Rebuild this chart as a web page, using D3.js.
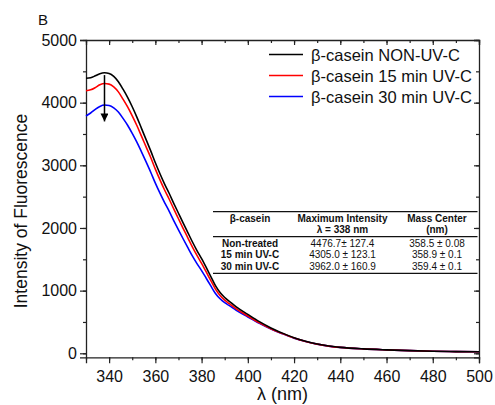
<!DOCTYPE html>
<html><head><meta charset="utf-8">
<script src="https://cdn.jsdelivr.net/npm/d3@7/dist/d3.min.js"></script>
<style>body{margin:0;background:#fff}svg{display:block;font-family:Arial,"Liberation Sans",sans-serif}</style>
</head><body><svg id="c" width="495" height="405"></svg>
<script>
const wavelengths=[330,332,334,336,338,340,342,344,346,348,350,352,354,356,358,360,362,364,366,368,370,372,374,376,378,380,382,384,386,388,390,392,395,400,405,410,415,420,425,430,435,440,450,460,470,480,490,500];
const nonUV=[4389,4398,4428,4463,4477,4466,4420,4335,4215,4085,3935,3770,3590,3410,3230,3040,2865,2700,2550,2390,2235,2080,1930,1780,1640,1510,1370,1225,1080,970,890,830,740,620,505,405,322,248,192,148,116,95,70,55,43,33,27,24];
const uv15=[4191,4205,4240,4285,4305,4296,4252,4172,4057,3932,3790,3635,3465,3295,3125,2940,2768,2606,2458,2300,2147,1995,1847,1700,1562,1434,1298,1160,1025,922,848,792,708,595,486,392,314,243,189,146,115,94,70,55,43,33,27,24];
const uv30=[3788,3835,3893,3940,3962,3955,3918,3850,3750,3640,3510,3370,3215,3055,2890,2715,2555,2405,2265,2115,1970,1828,1690,1555,1432,1320,1198,1075,955,870,808,760,685,580,478,387,312,242,189,146,115,94,70,55,43,33,27,24];
const seriesNames=["β-casein NON-UV-C","β-casein 15 min UV-C","β-casein 30 min UV-C"];
const seriesColors=["#000000","#ff0000","#0000ff"];
const xTicks=[340,360,380,400,420,440,460,480,500];
const yTicks=[0,1000,2000,3000,4000,5000];
const tableHeader=[["β-casein",""],["Maximum Intensity","λ = 338 nm"],["Mass Center","(nm)"]];
const tableRows=["Non-treated","15 min UV-C","30 min UV-C"];
const tableMax=["4476.7± 127.4","4305.0 ± 123.1","3962.0 ± 160.9"];
const tableCenter=["358.5 ± 0.08","358.9 ± 0.1","359.4 ± 0.1"];
const arrowFrom=[338,4440], arrowTo=[338,3700];

const svg=d3.select("#c");
const L=86,R=479,T=40,B=357.3;
const x=d3.scaleLinear().domain([330,500]).range([L,R]);
const y=d3.scaleLinear().domain([-64,5000]).range([B,T]);

// axes
const xMinor=d3.range(330,501,10);
const yMinor=d3.range(0,5001,500);
const gx=svg.append("g").attr("transform",`translate(0,${B})`)
 .call(d3.axisBottom(x).tickValues(xTicks).tickSize(6).tickPadding(7).tickFormat(d3.format("d")));
svg.append("g").attr("transform",`translate(0,${B})`).call(d3.axisBottom(x).tickValues(xMinor).tickSize(3).tickFormat("")).select(".domain").remove();
const gy=svg.append("g").attr("transform",`translate(${L},0)`)
 .call(d3.axisLeft(y).tickValues(yTicks).tickSize(6).tickPadding(3).tickFormat(d3.format("d")));
svg.append("g").attr("transform",`translate(${L},0)`).call(d3.axisLeft(y).tickValues(yMinor).tickSize(3).tickFormat("")).select(".domain").remove();
// mirrored
svg.append("g").attr("transform",`translate(0,${T})`).call(d3.axisBottom(x).tickValues(xTicks).tickSize(5).tickFormat(""));
svg.append("g").attr("transform",`translate(0,${T})`).call(d3.axisBottom(x).tickValues(xMinor).tickSize(3).tickFormat("")).select(".domain").remove();
svg.append("g").attr("transform",`translate(${R},0)`).call(d3.axisLeft(y).tickValues(yTicks).tickSize(5).tickFormat(""));
svg.append("g").attr("transform",`translate(${R},0)`).call(d3.axisLeft(y).tickValues(yMinor).tickSize(3).tickFormat("")).select(".domain").remove();
svg.selectAll(".domain").attr("stroke","#222").attr("stroke-width",1.3);
svg.selectAll(".tick line").attr("stroke","#222").attr("stroke-width",1.2);
svg.selectAll(".tick text").attr("font-size",16).attr("fill","#111").attr("font-family","Arial, Liberation Sans, sans-serif");

// titles
svg.append("text").attr("x",(L+R)/2).attr("y",400).attr("text-anchor","middle").attr("font-size",18).attr("fill","#111").text("λ (nm)");
svg.append("text").attr("transform","translate(27,211) rotate(-90)").attr("text-anchor","middle").attr("font-size",17.5).attr("fill","#111").text("Intensity of Fluorescence");
svg.append("text").attr("x",38).attr("y",25).attr("font-size",15).attr("fill","#111").text("B");

// lines
const series=[nonUV,uv15,uv30];
const line=d3.line().x((d,i)=>x(wavelengths[i])).y(d=>y(d)).curve(d3.curveMonotoneX);
[2,1,0].forEach(k=>{
 svg.append("path").datum(series[k]).attr("d",line).attr("fill","none").attr("stroke",seriesColors[k]).attr("stroke-width",1.6);
});

// arrow
svg.append("defs").append("marker").attr("id","ah").attr("viewBox","0 0 10 10").attr("refX",10).attr("refY",5)
 .attr("markerWidth",8).attr("markerHeight",8).attr("markerUnits","userSpaceOnUse").attr("orient","auto")
 .append("path").attr("d","M0,0 L10,5 L0,10 Z").attr("fill","#000");
svg.append("line").attr("x1",x(arrowFrom[0])).attr("y1",y(arrowFrom[1])).attr("x2",x(arrowTo[0])).attr("y2",y(arrowTo[1]))
 .attr("stroke","#000").attr("stroke-width",1.5).attr("marker-end","url(#ah)");

// legend
const lg=svg.append("g");
const legY=[54.5,75.5,96.5];
seriesNames.forEach((n,i)=>{
 lg.append("line").attr("x1",269).attr("x2",303).attr("y1",legY[i]).attr("y2",legY[i]).attr("stroke",seriesColors[i]).attr("stroke-width",1.6);
 lg.append("text").attr("x",311).attr("y",legY[i]+6).attr("font-size",16.5).attr("fill","#111").text(n);
});

// table
const tg=svg.append("g").attr("font-size",10).attr("fill","#111");
const colX=[250,342.5,437];
[211.7,236.7,273.3].forEach(yy=>tg.append("line").attr("x1",213).attr("x2",477.5).attr("y1",yy).attr("y2",yy).attr("stroke","#111").attr("stroke-width",1.3));
tableHeader.forEach((h,i)=>{
 tg.append("text").attr("x",colX[i]).attr("y",222).attr("text-anchor","middle").attr("font-weight","bold").text(h[0]);
 if(h[1]) tg.append("text").attr("x",colX[i]).attr("y",233).attr("text-anchor","middle").attr("font-weight","bold").text(h[1]);
});
const rowY=[246.5,258.3,270];
tableRows.forEach((r,i)=>{
 tg.append("text").attr("x",colX[0]).attr("y",rowY[i]).attr("text-anchor","middle").attr("font-weight","bold").text(r);
 tg.append("text").attr("x",colX[1]).attr("y",rowY[i]).attr("text-anchor","middle").text(tableMax[i]);
 tg.append("text").attr("x",colX[2]).attr("y",rowY[i]).attr("text-anchor","middle").text(tableCenter[i]);
});
</script></body></html>
